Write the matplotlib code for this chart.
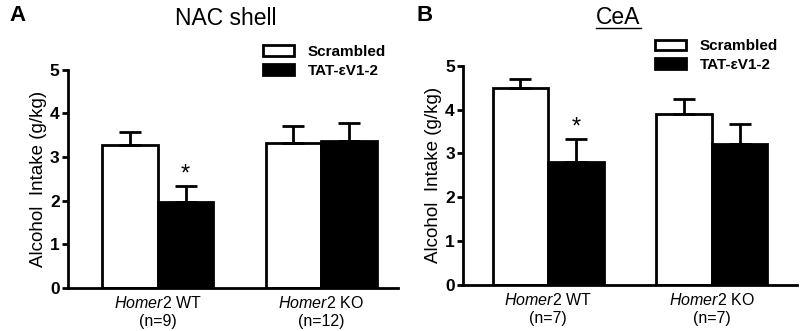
import numpy as np
import matplotlib
matplotlib.use('Agg')
import matplotlib.pyplot as plt

plt.rcParams['font.family'] = ['Liberation Sans', 'DejaVu Sans']
plt.rcParams['mathtext.fontset'] = 'custom'
plt.rcParams['mathtext.it'] = 'Liberation Sans:italic'
plt.rcParams['mathtext.rm'] = 'Liberation Sans'

groups_a = [r'$\it{Homer2}$ WT' + '\n(n=9)', r'$\it{Homer2}$ KO' + '\n(n=12)']
groups_b = [r'$\it{Homer2}$ WT' + '\n(n=7)', r'$\it{Homer2}$ KO' + '\n(n=7)']
series = ['Scrambled', 'TAT-\u03b5V1-2']

# NAC shell
scr_a = [3.27, 3.33]
scr_a_err = [0.31, 0.39]
tat_a = [1.98, 3.38]
tat_a_err = [0.35, 0.40]
# CeA
scr_b = [4.49, 3.90]
scr_b_err = [0.20, 0.35]
tat_b = [2.80, 3.22]
tat_b_err = [0.52, 0.46]

fig = plt.figure(figsize=(8, 3.31), dpi=100)
axA = fig.add_axes([0.085, 0.13, 0.4125, 0.659])
axB = fig.add_axes([0.579, 0.139, 0.417, 0.6625])

w = 0.34


def panel(ax, scr, scr_err, tat, tat_err, labels, xlim, legpos):
    x = np.arange(len(scr))
    ekw = dict(elinewidth=2, capthick=2, ecolor='black')
    ax.bar(x - w / 2, scr, w, color='white', edgecolor='black', linewidth=2,
           yerr=[np.zeros(len(scr)), scr_err], capsize=8, error_kw=ekw, zorder=2,
           label=series[0])
    ax.bar(x + w / 2, tat, w, color='black', edgecolor='black', linewidth=2,
           yerr=[np.zeros(len(tat)), tat_err], capsize=8, error_kw=ekw, zorder=2,
           label=series[1])
    # significance
    ax.text(x[0] + w / 2, tat[0] + tat_err[0] + 0.02, '*', ha='center', va='bottom',
            fontsize=17)
    ax.set_ylim(0, 5)
    ax.set_xlim(*xlim)
    ax.set_yticks(range(6))
    ax.set_xticks(x)
    ax.set_xticklabels(labels, fontsize=11.5, linespacing=1.25)
    ax.tick_params(axis='x', length=0, pad=5)
    ax.tick_params(axis='y', width=2, length=4, labelsize=12.5, pad=2)
    for t in ax.get_yticklabels():
        t.set_fontweight('bold')
    for s in ['top', 'right']:
        ax.spines[s].set_visible(False)
    for s in ['left', 'bottom']:
        ax.spines[s].set_linewidth(2)
    ax.set_ylabel('Alcohol  Intake (g/kg)', fontsize=13.5, labelpad=2)
    ax.legend(loc='center left', bbox_to_anchor=legpos, bbox_transform=fig.transFigure,
              frameon=False, prop={'weight': 'bold', 'size': 11}, handlelength=2.0,
              handleheight=0.7, handletextpad=0.9, labelspacing=0.3, borderpad=0,
              borderaxespad=0)


panel(axA, scr_a, scr_a_err, tat_a, tat_a_err, groups_a, (-0.55, 1.47), (0.329, 0.815))
panel(axB, scr_b, scr_b_err, tat_b, tat_b_err, groups_b, (-0.52, 1.52), (0.819, 0.832))

fig.text(0.282, 0.945, 'NAC shell', ha='center', va='center', fontsize=16.5)
fig.text(0.7725, 0.948, 'CeA', ha='center', va='center', fontsize=16.5)
fig.lines.append(plt.Line2D([0.745, 0.801], [0.915, 0.915], color='black', lw=1,
                            transform=fig.transFigure))
fig.text(0.012, 0.952, 'A', fontsize=16, fontweight='bold', va='center')
fig.text(0.521, 0.952, 'B', fontsize=16, fontweight='bold', va='center')

fig.savefig('out.png', dpi=100)
